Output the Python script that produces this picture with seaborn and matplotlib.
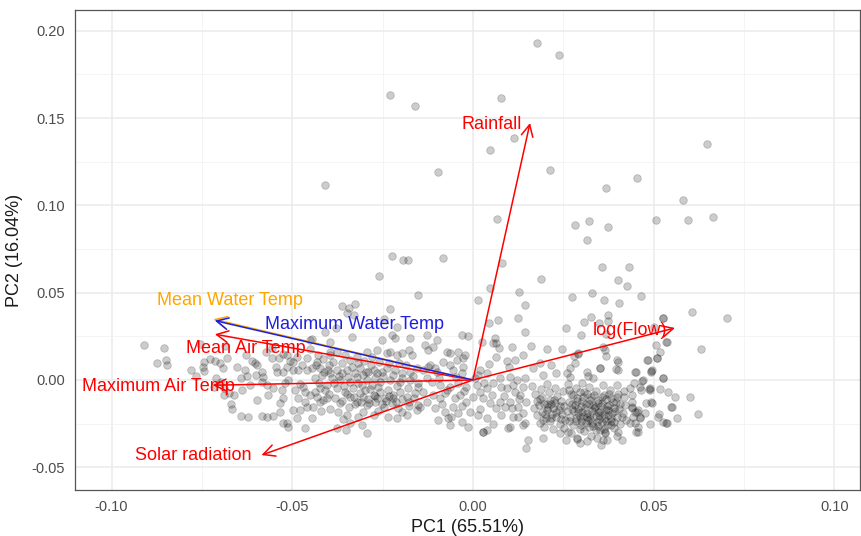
import matplotlib
matplotlib.use("Agg")
import matplotlib.pyplot as plt
import seaborn as sns
import pandas as pd
from matplotlib.ticker import MultipleLocator, FormatStrFormatter

# ---- sample scores (PC1, PC2) ----
upper = [
    (0.0177, 0.193), (0.0238, 0.186), (-0.0230, 0.163), (-0.0160, 0.157), (0.0077, 0.1615),
    (0.0113, 0.1386), (0.0047, 0.1317), (-0.0097, 0.119), (0.0213, 0.120), (-0.0409, 0.1117),
    (0.0066, 0.0922), (0.0282, 0.0888), (-0.0224, 0.071), (-0.0194, 0.0687), (-0.0180, 0.0687),
    (-0.0083, 0.0699), (0.0080, 0.067), (0.0647, 0.1352), (0.0454, 0.1157), (0.0368, 0.110),
    (0.0581, 0.103), (0.0321, 0.091), (0.0373, 0.0876), (0.0506, 0.0916), (0.0595, 0.0916),
    (0.0664, 0.0934), (0.0315, 0.0802), (0.0357, 0.0647), (0.0432, 0.0647), (-0.0261, 0.0597),
    (0.0188, 0.0577), (0.0401, 0.0571), (0.0425, 0.054),
]

left_tail = [
    (-0.0910, 0.0200), (-0.0855, 0.0183), (-0.0875, 0.0097), (-0.0850, 0.0114), (-0.0847, 0.0086),
    (-0.0780, 0.0057), (-0.0766, 0.0023), (-0.0755, 0.0206), (-0.0748, 0.0074), (-0.0745, 0.0050),
    (-0.0743, 0.0103), (-0.0728, 0.0120), (-0.0715, 0.0109), (-0.0700, 0.0097), (-0.0685, 0.0195),
    (-0.0680, 0.0126), (-0.0692, 0.0069), (-0.0712, 0.0011), (-0.0698, -0.0011), (-0.0716, -0.0040),
    (-0.0688, -0.0046), (-0.0675, -0.0075), (-0.0690, -0.0086), (-0.0668, -0.0137), (-0.0667, -0.0166),
    (-0.0661, -0.0086),
]

left_band = [
    (-0.0642, -0.0206), (-0.0622, -0.0212), (-0.0584, -0.0206), (-0.0570, -0.0212), (-0.0553, -0.0206),
    (-0.0534, -0.0183), (-0.0515, -0.0246), (-0.0653, 0.0074), (-0.0631, 0.0057), (-0.0642, 0.0011),
    (-0.0625, 0.0023), (-0.0603, 0.0097), (-0.0598, 0.0086), (-0.0584, 0.0046), (-0.0581, 0.0017),
    (-0.0542, 0.0046), (-0.0526, 0.0046), (-0.0515, 0.0074), (-0.0498, 0.0103), (-0.0498, 0.0057),
    (-0.0484, 0.0057), (-0.0473, 0.0086), (-0.0459, 0.0057), (-0.0445, 0.0069), (-0.0434, 0.0086),
    (-0.0423, 0.0069), (-0.0412, 0.0046), (-0.0401, 0.0057), (-0.0556, 0.0126), (-0.0537, 0.0126),
    (-0.0526, 0.0149), (-0.0451, 0.0178), (-0.0487, 0.0132), (-0.0429, 0.0143), (-0.0556, 0.0183),
    (-0.0451, 0.0229), (-0.0396, 0.0160), (-0.0553, -0.0046), (-0.0528, -0.0057), (-0.0526, -0.0103),
    (-0.0534, -0.0132), (-0.0492, -0.0057), (-0.0484, -0.0103), (-0.0498, -0.0172), (-0.0479, -0.0172),
    (-0.0465, -0.0069), (-0.0451, -0.0086), (-0.0437, -0.0069), (-0.0423, -0.0046), (-0.0409, -0.0057),
    (-0.0465, -0.0126), (-0.0459, -0.0155), (-0.0443, -0.0155), (-0.0423, -0.0126), (-0.0404, -0.0103),
    (-0.0526, -0.0246), (-0.0512, -0.0269), (-0.0487, -0.0218), (-0.0465, -0.0275), (-0.0445, -0.0218),
    (-0.0584, -0.0011), (-0.0617, -0.0029), (-0.0567, -0.0086), (-0.0598, -0.0115), (-0.0512, 0.0000),
    (-0.0479, -0.0023), (-0.0515, 0.0143), (-0.0573, 0.0160), (-0.0628, 0.0143), (-0.0445, 0.0235),
    (-0.0410, 0.0275), (-0.0380, 0.0300), (-0.0395, 0.0215),
    (-0.0600, 0.0030), (-0.0570, -0.0030), (-0.0545, 0.0075), (-0.0520, -0.0020), (-0.0505, 0.0110),
    (-0.0470, -0.0040), (-0.0460, 0.0125), (-0.0640, -0.0060), (-0.0610, 0.0110),
]

mid_left = [
    (-0.0363, 0.0426), (-0.0344, 0.0410), (-0.0326, 0.0433), (-0.0349, 0.0382), (-0.0330, 0.0372),
    (-0.0229, 0.0405), (-0.0247, 0.0350), (-0.0153, 0.0487), (-0.0335, 0.0248), (-0.0224, 0.0258),
    (-0.0215, 0.0238), (-0.0132, 0.0200), (-0.0123, 0.0172), (-0.0252, 0.0229), (-0.0238, 0.0153),
    (-0.0229, 0.0162), (-0.0210, 0.0143), (-0.0197, 0.0153), (-0.0178, 0.0172), (-0.0169, 0.0143),
    (-0.0395, 0.0143), (-0.0386, 0.0105), (-0.0377, 0.0057), (-0.0363, 0.0038), (-0.0349, 0.0057),
    (-0.0335, 0.0076), (-0.0326, 0.0038), (-0.0312, 0.0067), (-0.0303, 0.0028), (-0.0289, 0.0048),
    (-0.0275, 0.0057), (-0.0266, 0.0038), (-0.0252, 0.0048), (-0.0238, 0.0067), (-0.0215, 0.0057),
    (-0.0197, 0.0038), (-0.0174, 0.0048), (-0.0155, 0.0067), (-0.0137, 0.0057), (-0.0123, 0.0076),
    (-0.0390, 0.0009), (-0.0367, 0.0000), (-0.0340, -0.0010), (-0.0317, -0.0019), (-0.0294, 0.0000),
    (-0.0280, -0.0029), (-0.0257, -0.0010), (-0.0229, 0.0000), (-0.0201, -0.0010), (-0.0174, 0.0000),
    (-0.0151, -0.0019), (-0.0128, 0.0009), (-0.0377, -0.0048), (-0.0353, -0.0067), (-0.0340, -0.0096),
    (-0.0312, -0.0077), (-0.0298, -0.0057), (-0.0275, -0.0086), (-0.0257, -0.0067), (-0.0243, -0.0105),
    (-0.0220, -0.0086), (-0.0201, -0.0067), (-0.0183, -0.0096), (-0.0160, -0.0077), (-0.0137, -0.0067),
    (-0.0367, -0.0134), (-0.0344, -0.0153), (-0.0321, -0.0124), (-0.0294, -0.0143), (-0.0270, -0.0124),
    (-0.0247, -0.0153), (-0.0224, -0.0134), (-0.0206, -0.0163), (-0.0178, -0.0124), (-0.0151, -0.0143),
    (-0.0128, -0.0124), (-0.0372, -0.0182), (-0.0349, -0.0201), (-0.0303, -0.0182), (-0.0275, -0.0201),
    (-0.0234, -0.0211), (-0.0210, -0.0220), (-0.0183, -0.0201), (-0.0155, -0.0172), (-0.0146, -0.0153),
    (-0.0377, -0.0277), (-0.0340, -0.0248), (-0.0307, -0.0258), (-0.0294, -0.0306), (-0.0351, -0.0286),
    (-0.0330, -0.0100), (-0.0290, -0.0110), (-0.0270, -0.0090), (-0.0310, -0.0125), (-0.0240, -0.0120),
    (-0.0220, -0.0105), (-0.0377, 0.0162), (-0.0353, 0.0143), (-0.0321, 0.0134), (-0.0294, 0.0162),
    (-0.0280, 0.0134), (-0.0266, 0.0172), (-0.0210, 0.0304), (-0.0174, 0.0240), (-0.0127, 0.0258),
    (-0.0100, 0.0229),
]

mid_core = [
    (-0.0438, 0.0012), (-0.0425, -0.0015), (-0.0418, 0.0030), (-0.0405, -0.0030), (-0.0396, 0.0038),
    (-0.0384, -0.0020), (-0.0371, 0.0025), (-0.0358, -0.0035), (-0.0346, 0.0015), (-0.0333, -0.0045),
    (-0.0321, 0.0020), (-0.0308, -0.0030), (-0.0296, 0.0045), (-0.0284, -0.0050), (-0.0271, 0.0010),
    (-0.0262, -0.0040), (-0.0248, 0.0022), (-0.0236, -0.0055), (-0.0222, 0.0030), (-0.0209, -0.0035),
    (-0.0195, 0.0012), (-0.0181, -0.0048), (-0.0167, 0.0025), (-0.0153, -0.0042),
    (-0.0432, -0.0095), (-0.0414, -0.0112), (-0.0398, -0.0080), (-0.0381, -0.0105), (-0.0362, -0.0118),
    (-0.0348, -0.0082), (-0.0326, -0.0140), (-0.0305, -0.0095), (-0.0287, -0.0130), (-0.0266, -0.0105),
    (-0.0252, -0.0138), (-0.0233, -0.0090), (-0.0214, -0.0125), (-0.0196, -0.0110), (-0.0176, -0.0150),
    (-0.0163, -0.0105), (-0.0432, 0.0105), (-0.0415, 0.0120), (-0.0398, 0.0085), (-0.0362, 0.0100),
    (-0.0340, 0.0115), (-0.0318, 0.0095), (-0.0300, 0.0110), (-0.0281, 0.0088), (-0.0259, 0.0105),
    (-0.0233, 0.0095), (-0.0205, 0.0100), (-0.0186, 0.0085), (-0.0420, -0.0180), (-0.0395, -0.0165),
    (-0.0360, -0.0225), (-0.0318, -0.0210), (-0.0262, -0.0175), (-0.0196, -0.0185),
]

center = [
    (0.0047, 0.0525), (0.0128, 0.0506), (0.0015, 0.0458), (0.0144, 0.0430), (0.0125, 0.0353),
    (0.0070, 0.0344), (0.0045, 0.0325), (0.0144, 0.0277), (-0.0031, 0.0258), (-0.0013, 0.0252),
    (0.0061, 0.0239), (0.0065, 0.0210), (0.0056, 0.0210), (0.0073, 0.0181), (0.0024, 0.0219),
    (0.0107, 0.0190), (-0.0110, 0.0190), (-0.0073, 0.0162), (-0.0064, 0.0153), (-0.0041, 0.0162),
    (-0.0027, 0.0124), (-0.0022, 0.0143), (-0.0045, 0.0115), (0.0065, 0.0134), (0.0093, 0.0109),
    (0.0116, 0.0115), (0.0139, 0.0143), (-0.0082, 0.0105), (-0.0064, 0.0086), (-0.0054, 0.0057),
    (-0.0027, 0.0076), (-0.0031, 0.0038), (-0.0119, 0.0086), (-0.0105, 0.0067), (0.0019, 0.0057),
    (0.0015, 0.0028), (0.0038, 0.0038), (0.0075, 0.0009), (0.0102, 0.0019), (0.0121, 0.0000),
    (0.0144, 0.0009), (0.0056, -0.0019), (0.0079, -0.0038), (-0.0114, -0.0010), (-0.0091, -0.0029),
    (-0.0064, -0.0038), (-0.0041, -0.0019), (-0.0018, -0.0038), (0.0010, -0.0029), (0.0019, -0.0067),
    (0.0038, -0.0048), (0.0093, -0.0048), (0.0116, -0.0067), (0.0139, -0.0038), (0.0130, -0.0086),
    (-0.0110, -0.0086), (-0.0091, -0.0105), (-0.0077, -0.0077), (-0.0050, -0.0105), (-0.0036, -0.0086),
    (-0.0018, -0.0124), (0.0001, -0.0096), (0.0029, -0.0105), (0.0047, -0.0134), (0.0075, -0.0124),
    (0.0065, -0.0163), (0.0102, -0.0124), (0.0125, -0.0153), (0.0148, -0.0124), (-0.0105, -0.0163),
    (-0.0077, -0.0182), (-0.0054, -0.0153), (-0.0040, -0.0191), (-0.0008, -0.0182), (0.0015, -0.0201),
    (0.0038, -0.0220), (0.0079, -0.0201), (0.0112, -0.0211), (0.0139, -0.0191), (0.0107, -0.0163),
    (-0.0096, -0.0230), (-0.0064, -0.0258), (-0.0031, -0.0239), (-0.0013, -0.0268), (-0.0068, -0.0220),
    (0.0029, -0.0296), (0.0098, -0.0277), (0.0139, -0.0258), (0.0148, -0.0392), (0.0028, -0.0298),
    (0.0039, -0.0286), (0.0152, -0.0344), (0.0194, -0.0332), (0.0240, -0.0304), (0.0263, -0.0298),
    (0.0102, -0.0269), (0.0144, -0.0246),
    (-0.0095, 0.0010), (-0.0072, -0.0060), (-0.0048, 0.0020), (-0.0025, -0.0065), (0.0005, 0.0010),
    (0.0030, -0.0015), (0.0052, -0.0085), (0.0085, -0.0090), (0.0110, -0.0030), (0.0128, -0.0110),
    (-0.0085, -0.0140), (-0.0030, -0.0150), (0.0020, -0.0165), (0.0090, -0.0155), (-0.0100, 0.0045),
    (0.0045, 0.0090), (0.0100, 0.0075), (-0.0060, -0.0210), (0.0055, -0.0250), (0.0125, -0.0210),
]

right_upper = [
    (0.0273, 0.0477), (0.0330, 0.0500), (0.0362, 0.0460), (0.0403, 0.0440), (0.0327, 0.0363),
    (0.0307, 0.0330), (0.0373, 0.0372), (0.0374, 0.0340), (0.0350, 0.0324), (0.0258, 0.0300),
    (0.0298, 0.0258), (0.0368, 0.0261), (0.0206, 0.0177), (0.0246, 0.0177), (0.0292, 0.0150),
    (0.0281, 0.0137), (0.0365, 0.0172), (0.0368, 0.0140), (0.0402, 0.0105), (0.0165, 0.0067),
    (0.0317, 0.0048), (0.0352, 0.0067), (0.0395, 0.0061), (0.0269, 0.0067), (0.0464, 0.0483),
    (0.0606, 0.0391), (0.0526, 0.0357), (0.0703, 0.0353), (0.0500, 0.0305), (0.0506, 0.0200),
    (0.0535, 0.0216), (0.0519, 0.0162), (0.0630, 0.0180), (0.0508, 0.0128), (0.0482, 0.0114),
    (0.0492, 0.0048), (0.0494, 0.0052), (0.0452, 0.0048), (0.0526, 0.0010), (0.0469, -0.0006),
    (0.0445, -0.0015), (0.0462, -0.0038), (0.0466, -0.0057), (0.0490, -0.0057), (0.0517, -0.0050),
    (0.0540, -0.0070), (0.0560, -0.0096), (0.0600, -0.0096), (0.0480, -0.0134), (0.0494, -0.0124),
    (0.0549, -0.0157), (0.0623, -0.0193), (0.0566, -0.0216), (0.0515, -0.0197), (0.0512, -0.0210),
    (0.0526, -0.0239), (0.0535, -0.0249), (0.0490, -0.0254), (0.0452, -0.0300), (0.0439, -0.0163),
    (0.0448, -0.0182), (0.0457, -0.0172), (0.0443, -0.0210), (0.0462, -0.0220), (0.0475, -0.0191),
    (0.0434, -0.0249), (0.0457, -0.0268), (0.0434, -0.0048), (0.0439, -0.0086), (0.0441, -0.0124),
    (0.0526, 0.0355), (0.0537, 0.0218), (0.0509, 0.0126), (0.0526, 0.0011), (0.0550, -0.0155),
    (0.0537, -0.0246), (0.0495, -0.0132), (0.0487, -0.0052), (0.0160, 0.0195), (0.0185, 0.0100),
    (0.0215, 0.0085), (0.0230, 0.0040), (0.0195, 0.0030), (0.0290, 0.0155), (0.0282, 0.0097),
    (0.0360, 0.0189), (0.0398, 0.0115), (0.0401, 0.0057), (0.0351, 0.0069), (0.0318, 0.0023),
    (0.0332, 0.0011), (0.0260, 0.0040), (0.0268, 0.0017), (0.0484, 0.0115), (0.0495, 0.0057),
    (0.0448, 0.0046), (0.0470, 0.0000), (0.0490, -0.0046),
]

dense_a = [
    (0.0163, -0.0032), (0.0171, -0.0078), (0.0178, -0.0121), (0.0169, -0.0160), (0.0176, -0.0203),
    (0.0185, -0.0244), (0.0187, -0.0052), (0.0192, -0.0097), (0.0197, -0.0139), (0.0190, -0.0181),
    (0.0201, -0.0220), (0.0196, -0.0268), (0.0206, -0.0021), (0.0211, -0.0070), (0.0214, -0.0113),
    (0.0208, -0.0155), (0.0219, -0.0192), (0.0212, -0.0236), (0.0221, -0.0281), (0.0228, -0.0045),
    (0.0233, -0.0092), (0.0226, -0.0132), (0.0237, -0.0170), (0.0231, -0.0211), (0.0240, -0.0254),
    (0.0249, -0.0063), (0.0245, -0.0118), (0.0253, -0.0149), (0.0247, -0.0196), (0.0256, -0.0229),
    (0.0251, -0.0275), (0.0183, -0.0145), (0.0204, -0.0170), (0.0222, -0.0160), (0.0199, -0.0195),
    (0.0215, -0.0140), (0.0185, -0.0110), (0.0205, -0.0135), (0.0225, -0.0115), (0.0240, -0.0150),
    (0.0230, -0.0185), (0.0215, -0.0215), (0.0245, -0.0225), (0.0195, -0.0230),
]

dense_b = [
    (0.0262, -0.0021), (0.0270, -0.0082), (0.0266, -0.0127), (0.0274, -0.0168), (0.0268, -0.0214),
    (0.0277, -0.0256), (0.0271, -0.0305), (0.0284, -0.0048), (0.0289, -0.0101), (0.0283, -0.0145),
    (0.0292, -0.0189), (0.0286, -0.0232), (0.0295, -0.0279), (0.0303, -0.0016), (0.0307, -0.0069),
    (0.0301, -0.0122), (0.0310, -0.0161), (0.0305, -0.0205), (0.0313, -0.0247), (0.0308, -0.0293),
    (0.0322, -0.0040), (0.0326, -0.0095), (0.0320, -0.0138), (0.0329, -0.0180), (0.0324, -0.0223),
    (0.0332, -0.0265), (0.0327, -0.0318), (0.0341, -0.0062), (0.0345, -0.0112), (0.0339, -0.0155),
    (0.0348, -0.0198), (0.0343, -0.0241), (0.0351, -0.0286), (0.0360, -0.0028), (0.0364, -0.0085),
    (0.0358, -0.0130), (0.0367, -0.0171), (0.0362, -0.0215), (0.0370, -0.0258), (0.0365, -0.0304),
    (0.0379, -0.0055), (0.0383, -0.0105), (0.0377, -0.0146), (0.0386, -0.0189), (0.0381, -0.0233),
    (0.0389, -0.0277), (0.0398, -0.0031), (0.0402, -0.0078), (0.0396, -0.0124), (0.0405, -0.0167),
    (0.0400, -0.0210), (0.0408, -0.0251), (0.0417, -0.0098), (0.0421, -0.0145), (0.0415, -0.0190),
    (0.0424, -0.0228), (0.0419, -0.0062), (0.0280, -0.0175), (0.0298, -0.0150), (0.0315, -0.0190),
    (0.0334, -0.0160), (0.0352, -0.0175), (0.0371, -0.0150), (0.0296, -0.0210), (0.0318, -0.0228),
    (0.0340, -0.0205), (0.0357, -0.0238), (0.0375, -0.0198), (0.0391, -0.0160), (0.0287, -0.0120),
    (0.0305, -0.0100), (0.0323, -0.0115), (0.0346, -0.0132), (0.0368, -0.0110), (0.0388, -0.0128),
    (0.0300, -0.0255), (0.0321, -0.0272), (0.0345, -0.0262), (0.0362, -0.0280), (0.0383, -0.0258),
    (0.0289, -0.0338), (0.0316, -0.0352), (0.0342, -0.0335), (0.0372, -0.0345), (0.0398, -0.0322),
    (0.0258, -0.0345), (0.0355, -0.0372), (0.0296, -0.0360), (0.0360, -0.0344), (0.0412, -0.0344),
    (0.0288, -0.0332), (0.0365, -0.0298), (0.0401, -0.0298), (0.0440, -0.0155), (0.0454, -0.0183),
    (0.0462, -0.0212), (0.0448, -0.0246), (0.0456, -0.0298),
]

dense_core = [
    (0.0260, -0.0180), (0.0275, -0.0140), (0.0290, -0.0165), (0.0302, -0.0185), (0.0312, -0.0135),
    (0.0325, -0.0200), (0.0333, -0.0145), (0.0347, -0.0185), (0.0355, -0.0150), (0.0362, -0.0195),
    (0.0374, -0.0170), (0.0382, -0.0215), (0.0394, -0.0180), (0.0408, -0.0140), (0.0413, -0.0210),
    (0.0285, -0.0215), (0.0300, -0.0235), (0.0316, -0.0210), (0.0330, -0.0245), (0.0348, -0.0225),
    (0.0368, -0.0235), (0.0390, -0.0240), (0.0278, -0.0085), (0.0296, -0.0070), (0.0315, -0.0080),
    (0.0336, -0.0088), (0.0356, -0.0095), (0.0377, -0.0080), (0.0400, -0.0095), (0.0265, -0.0235),
    (0.0265, -0.0060), (0.0340, -0.0285),
]

# ---- variable loadings ----
variables = ["Rainfall", "log(Flow)", "Mean Air Temp", "Maximum Air Temp",
             "Solar radiation", "Mean Water Temp", "Maximum Water Temp"]
load_pc1 = [0.0158, 0.0559, -0.0714, -0.0720, -0.0585, -0.0718, -0.0714]
load_pc2 = [0.1472, 0.0298, 0.0262, -0.0030, -0.0430, 0.0348, 0.0340]
var_colors = ["#FF0000", "#FF0000", "#FF0000", "#FF0000", "#FF0000", "#FFA500", "#1F1FE0"]
label_pos = [(0.0053, 0.1466), (0.0434, 0.0286), (-0.0628, 0.0178), (-0.0870, -0.0040),
             (-0.0773, -0.0430), (-0.0672, 0.0458), (-0.0329, 0.0315)]

x_ticks = [-0.10, -0.05, 0.00, 0.05, 0.10]
y_ticks = [-0.05, 0.00, 0.05, 0.10, 0.15, 0.20]

scores = pd.DataFrame(upper + left_tail + left_band + mid_left + mid_core + center
                      + right_upper + dense_a + dense_b + dense_core,
                      columns=["PC1", "PC2"])

sns.set_style("white")
plt.rcParams["font.family"] = ["Liberation Sans", "DejaVu Sans"]
plt.rcParams["axes.unicode_minus"] = False

fig = plt.figure(figsize=(8.61, 5.36), dpi=100)
ax = fig.add_axes([75 / 861, 1 - 490 / 536, 785 / 861, 480 / 536])

ax.set_xlim(-0.1101, 0.1071)
ax.set_ylim(-0.0630, 0.2119)
ax.set_xticks(x_ticks)
ax.set_yticks(y_ticks)
ax.xaxis.set_minor_locator(MultipleLocator(0.025))
ax.yaxis.set_minor_locator(MultipleLocator(0.025))
ax.xaxis.set_major_formatter(FormatStrFormatter("%.2f"))
ax.yaxis.set_major_formatter(FormatStrFormatter("%.2f"))
ax.grid(which="major", color="#EBEBEB", linewidth=1.1)
ax.grid(which="minor", color="#F2F2F2", linewidth=0.6)
ax.set_axisbelow(True)

sns.scatterplot(data=scores, x="PC1", y="PC2", color="black", alpha=0.2, s=30,
                edgecolor="black", linewidth=0.6, ax=ax, zorder=2)

for name, lx, ly, col, (tx, ty) in zip(variables, load_pc1, load_pc2, var_colors, label_pos):
    ax.annotate("", xy=(lx, ly), xytext=(0, 0),
                arrowprops=dict(arrowstyle="->,head_length=0.7,head_width=0.35",
                                color=col, lw=1.1, shrinkA=0, shrinkB=0,
                                mutation_scale=12), zorder=3)
    ax.text(tx, ty, name, color=col, fontsize=13, ha="center", va="center", zorder=4)

for side in ax.spines.values():
    side.set_color("#555555")
    side.set_linewidth(0.9)

ax.tick_params(axis="both", which="major", length=4, width=0.8, color="#333333",
               labelsize=10.5, labelcolor="#4D4D4D", pad=3)
ax.tick_params(axis="both", which="minor", length=0)

ax.set_xlabel("PC1 (65.51%)", fontsize=13, color="#1A1A1A", labelpad=4)
ax.set_ylabel("PC2 (16.04%)", fontsize=13, color="#1A1A1A", labelpad=6)

fig.savefig("out.png", dpi=100)
